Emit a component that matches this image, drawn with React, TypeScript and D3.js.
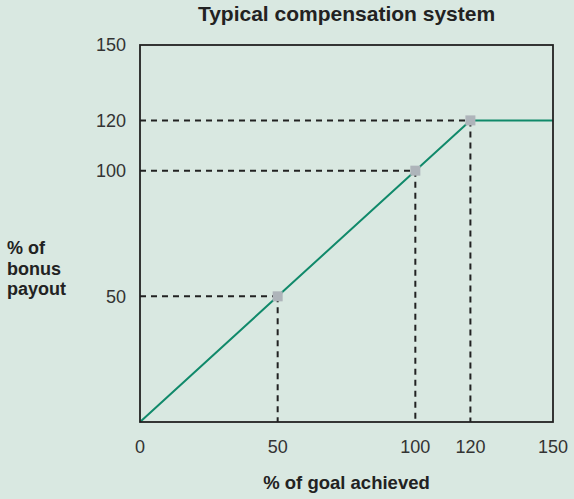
import React from "react";
import * as d3 from "d3";

const goalAchieved = [0, 50, 100, 120, 150];
const bonusPayout = [0, 50, 100, 120, 120];
const markerGoal = [50, 100, 120];
const markerPayout = [50, 100, 120];
const xTickValues = [0, 50, 100, 120, 150];
const yTickValues = [50, 100, 120, 150];
const titleText = "Typical compensation system";
const xTitle = "% of goal achieved";
const yTitleLines = ["% of", "bonus", "payout"];

const W = 574;
const H = 499;
const BG = "#d9e8e1";
const INK = "#222222";
const GREEN = "#10896a";
const MARKER = "#aeb4ba";
const FONT = "'Liberation Sans', Arial, Helvetica, sans-serif";

export default function App() {
  const x = d3.scaleLinear().domain([0, 150]).range([140, 553]);
  const y = d3.scaleLinear().domain([0, 150]).range([422, 45]);
  const pts: [number, number][] = goalAchieved.map((g, i) => [g, bonusPayout[i]]);
  const line = d3
    .line<[number, number]>()
    .x((d) => x(d[0]))
    .y((d) => y(d[1]));
  const [x0, x1] = x.range();
  const [y0, y1] = y.range();
  const cx = (x0 + x1) / 2;
  const ms = 10;

  return (
    <svg
      width={W}
      height={H}
      style={{ position: "absolute", left: 0, top: 0, display: "block" }}
      fontFamily={FONT}
    >
      <rect x={0} y={0} width={W} height={H} fill={BG} />
      <text x={cx} y={21} textAnchor="middle" fontSize={21} fontWeight="bold" fill={INK}>
        {titleText}
      </text>

      {/* dashed guides */}
      {markerGoal.map((g, i) => (
        <g key={"g" + i} stroke={INK} strokeWidth={2} strokeDasharray="6,5" fill="none">
          <line x1={x0} x2={x(g)} y1={y(markerPayout[i])} y2={y(markerPayout[i])} />
          <line x1={x(g)} x2={x(g)} y1={y(markerPayout[i])} y2={y0} />
        </g>
      ))}

      <path d={line(pts) || ""} fill="none" stroke={GREEN} strokeWidth={2} />

      {markerGoal.map((g, i) => (
        <rect
          key={"m" + i}
          x={x(g) - ms / 2}
          y={y(markerPayout[i]) - ms / 2}
          width={ms}
          height={ms}
          fill={MARKER}
        />
      ))}

      {/* frame */}
      <rect
        x={x0}
        y={y1}
        width={x1 - x0}
        height={y0 - y1}
        fill="none"
        stroke={INK}
        strokeWidth={1.8}
      />

      {yTickValues.map((v) => (
        <text
          key={"yt" + v}
          x={126}
          y={y(v)}
          dy="0.35em"
          textAnchor="end"
          fontSize={18}
          fill="#333"
        >
          {v}
        </text>
      ))}
      {xTickValues.map((v) => (
        <text
          key={"xt" + v}
          x={x(v)}
          y={453}
          textAnchor="middle"
          fontSize={18}
          fill="#333"
        >
          {v}
        </text>
      ))}

      <text x={cx} y={489} textAnchor="middle" fontSize={18.5} fontWeight="bold" fill={INK}>
        {xTitle}
      </text>
      {yTitleLines.map((t, i) => (
        <text key={"yl" + i} x={7} y={254 + i * 20.5} fontSize={18} fontWeight="bold" fill={INK}>
          {t}
        </text>
      ))}
    </svg>
  );
}
